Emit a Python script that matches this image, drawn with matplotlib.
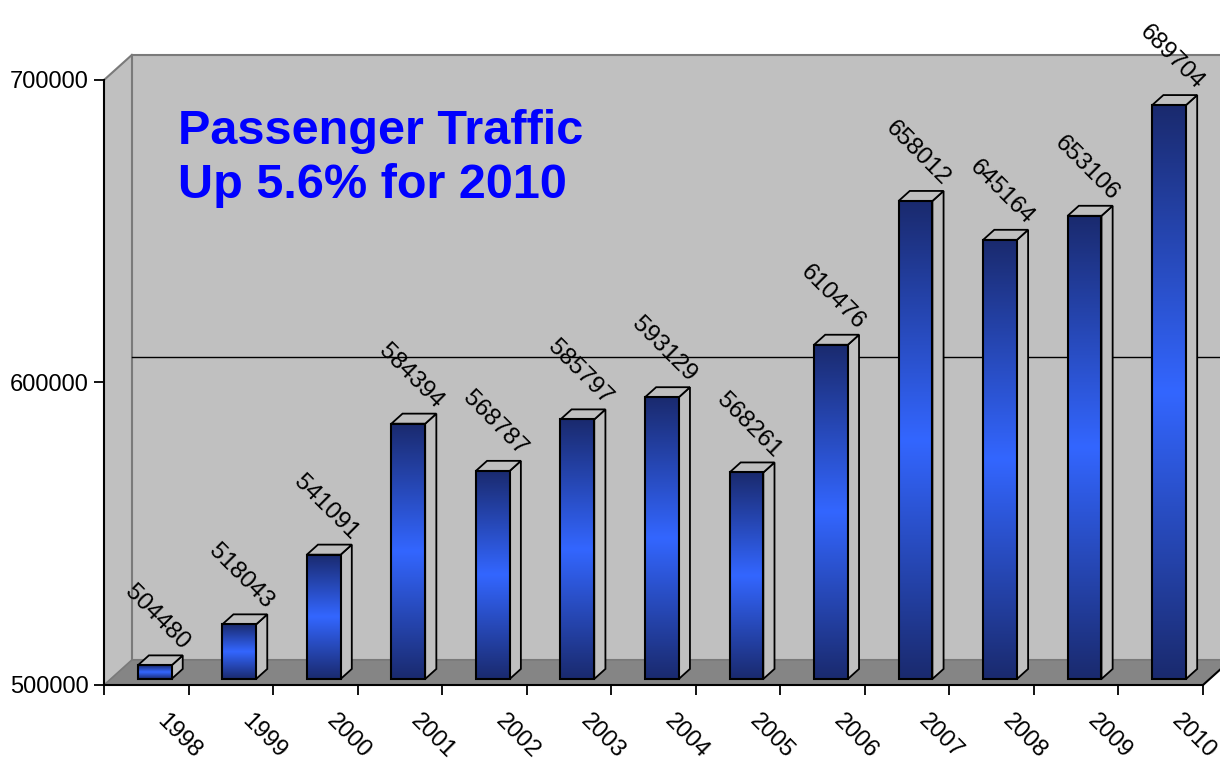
import numpy as np
import matplotlib.pyplot as plt
from matplotlib.patches import Polygon, Rectangle
from matplotlib.colors import LinearSegmentedColormap

plt.rcParams['font.family'] = ['Liberation Sans', 'DejaVu Sans']

# Passenger counts per year
years = ['1998', '1999', '2000', '2001', '2002', '2003', '2004',
         '2005', '2006', '2007', '2008', '2009', '2010']
passengers = [504480, 518043, 541091, 584394, 568787, 585797, 593129,
              568261, 610476, 658012, 645164, 653106, 689704]
y_ticks = [500000, 600000, 700000]
title = 'Passenger Traffic\nUp 5.6% for 2010'

ymin, ymax = 500000, 700000
n = len(years)

# fake 3d depth (full depth of the floor) in data units
DX = 0.33
DY = 8300

wall = '#c0c0c0'
floor_c = '#858585'
edge_grey = '#7a7a7a'


def proj(x, v, d):
    return (x + d * DX, v + d * DY)


W, H = 1220, 765
fig = plt.figure(figsize=(W / 100, H / 100), dpi=100)
ax = fig.add_axes([104 / W, 1 - 685 / H, (1203 - 104) / W, (685 - 80) / H])
ax.patch.set_visible(False)

# left wall
lw_pts = [proj(0, ymin, 0), proj(0, ymin, 1), proj(0, ymax, 1), proj(0, ymax, 0)]
ax.add_patch(Polygon(lw_pts, closed=True, fc=wall, ec='none', zorder=0.5, clip_on=False))
ax.plot([lw_pts[3][0], lw_pts[2][0]], [lw_pts[3][1], lw_pts[2][1]],
        color=edge_grey, lw=1.5, zorder=0.6, clip_on=False)

# back wall
bx, by = proj(0, ymin, 1)
ax.add_patch(Rectangle((bx, by), n + 1, ymax - ymin, fc=wall, ec=edge_grey,
                       lw=1.5, zorder=0.5, clip_on=False))

# gridline on the back wall
gx, gy = proj(0, 600000, 1)
ax.plot([gx, gx + n + 1], [gy, gy], color='black', lw=1, zorder=0.7, clip_on=False)

# floor
ax.add_patch(Polygon([proj(0, ymin, 0), proj(n, ymin, 0), proj(n, ymin, 1), proj(0, ymin, 1)],
                     closed=True, fc=floor_c, ec='none', zorder=0.8, clip_on=False))
ax.plot([proj(0, ymin, 0)[0], proj(0, ymin, 1)[0], proj(n + 1, ymin, 1)[0]],
        [proj(0, ymin, 0)[1], proj(0, ymin, 1)[1], proj(n + 1, ymin, 1)[1]],
        color=edge_grey, lw=1.2, zorder=0.9, clip_on=False)
ax.plot([proj(n, ymin, 0)[0], proj(n, ymin, 1)[0]],
        [proj(n, ymin, 0)[1], proj(n, ymin, 1)[1]],
        color='black', lw=1.5, zorder=0.9, clip_on=False)

# bars
cmap = LinearSegmentedColormap.from_list('bar', ['#1a2a6e', '#3366ff', '#1a2a6e'])
grad = np.linspace(0, 1, 256).reshape(-1, 1)
bw = 0.4
d0, d1 = 0.24, 0.64
for i, v in enumerate(passengers):
    x0 = i + 0.32
    x1 = x0 + bw
    side = [proj(x1, ymin, d0), proj(x1, ymin, d1), proj(x1, v, d1), proj(x1, v, d0)]
    top = [proj(x0, v, d0), proj(x1, v, d0), proj(x1, v, d1), proj(x0, v, d1)]
    ax.add_patch(Polygon(side, closed=True, fc=wall, ec='black', lw=1.3, zorder=2))
    ax.add_patch(Polygon(top, closed=True, fc=wall, ec='black', lw=1.3, zorder=2))
    fx0, fy0 = proj(x0, ymin, d0)
    fx1, fy1 = proj(x1, v, d0)
    ax.imshow(grad, cmap=cmap, extent=(fx0, fx1, fy0, fy1), aspect='auto',
              origin='lower', zorder=3, interpolation='bilinear')
    ax.add_patch(Rectangle((fx0, fy0), fx1 - fx0, fy1 - fy0, fc='none',
                           ec='black', lw=1.5, zorder=4))
    ax.annotate(str(v), ((fx0 + fx1) / 2, fy1), xytext=(1.5, 8),
                textcoords='offset points', rotation=-45, ha='center',
                va='bottom', fontsize=17.5, zorder=5)

# year labels
for i, yr in enumerate(years):
    ax.annotate(yr, (i + 0.5, ymin), xytext=(5, -18), textcoords='offset points',
                rotation=-45, ha='left', va='top', fontsize=17)

ax.set_xlim(0, n)
ax.set_ylim(ymin, ymax)
ax.set_xticks(range(n + 1))
ax.set_xticklabels([])
ax.tick_params(axis='x', length=7, width=1.3, direction='out')
ax.set_yticks(y_ticks)
ax.set_yticklabels([str(t) for t in y_ticks])
ax.tick_params(axis='y', length=7, width=1.3, pad=4, labelsize=17)
for s in ['top', 'right']:
    ax.spines[s].set_visible(False)
for s in ['left', 'bottom']:
    ax.spines[s].set_linewidth(1.5)
    ax.spines[s].set_zorder(3.5)

fig.text(178 / W, 1 - 109 / H, title, color='#0000ff', fontsize=35,
         fontweight='bold', ha='left', va='top', linespacing=1.27)

fig.savefig('out.png', dpi=100)
